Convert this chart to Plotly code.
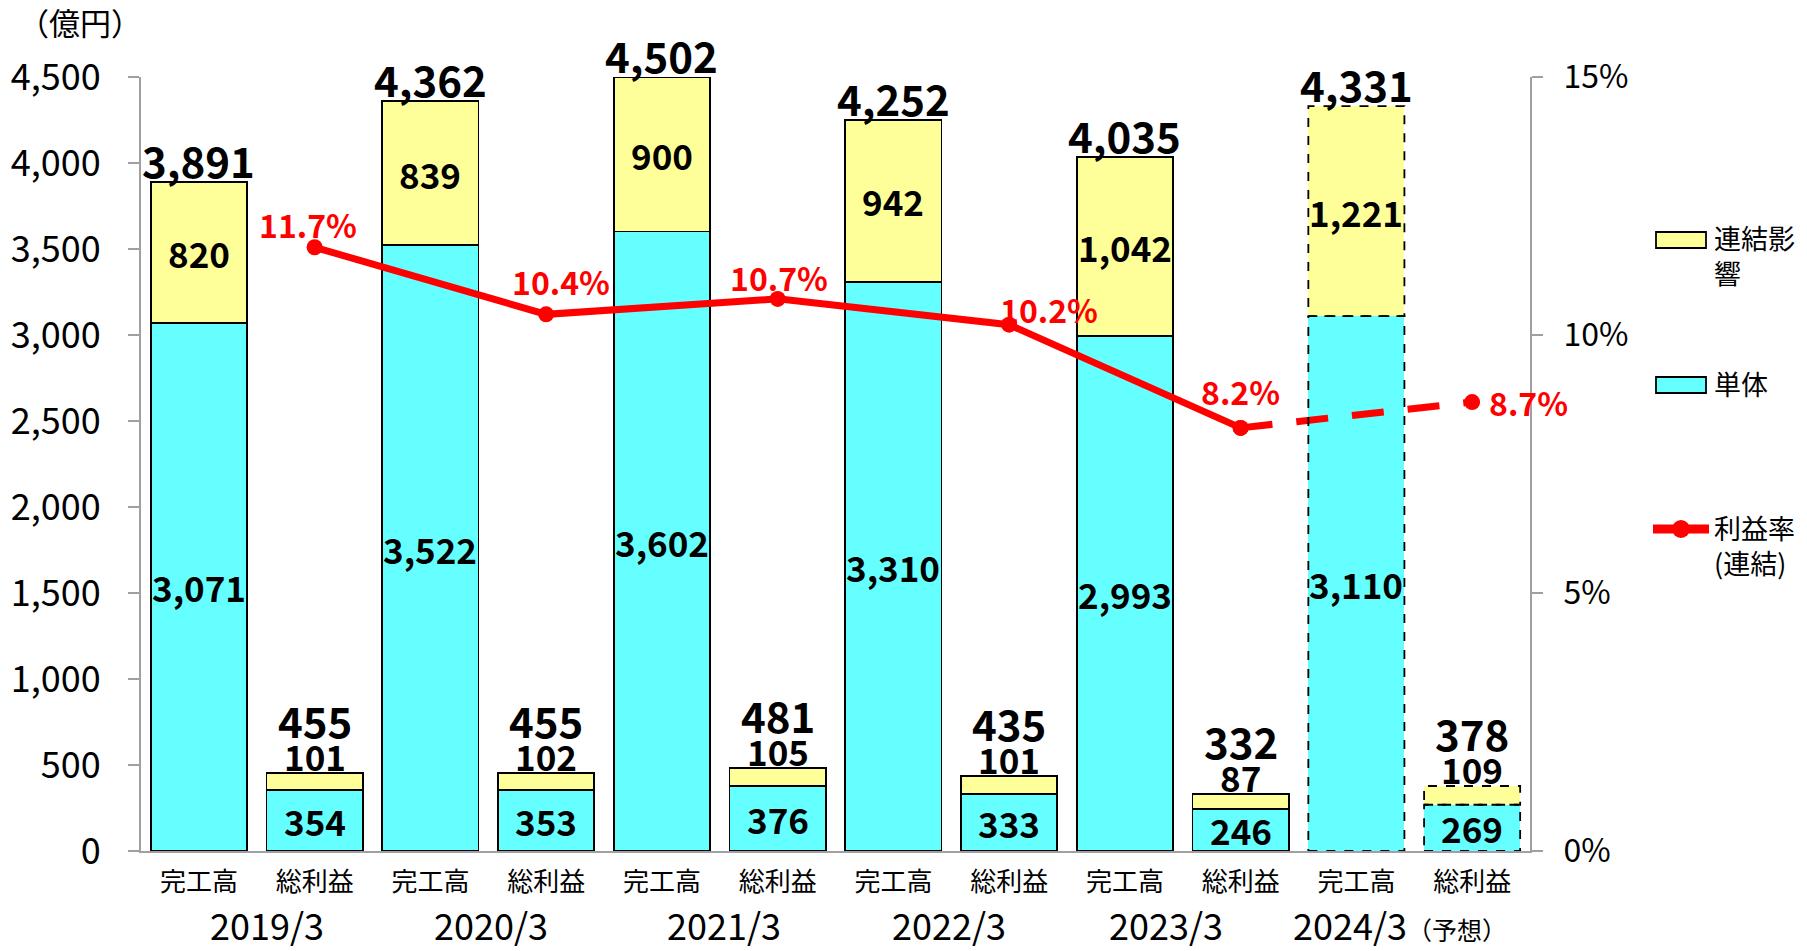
import plotly.graph_objects as go

# ---------------- data ----------------
years = ["2019/3", "2020/3", "2021/3", "2022/3", "2023/3", "2024/3"]
forecast_note = "（予想）"
cat_labels = ["完工高", "総利益"]
sales_single = [3071, 3522, 3602, 3310, 2993, 3110]
sales_consol = [820, 839, 900, 942, 1042, 1221]
sales_total = [3891, 4362, 4502, 4252, 4035, 4331]
profit_single = [354, 353, 376, 333, 246, 269]
profit_consol = [101, 102, 105, 101, 87, 109]
profit_total = [455, 455, 481, 435, 332, 378]
margin_pct = [11.7, 10.4, 10.7, 10.2, 8.2, 8.7]
y_ticks = [0, 500, 1000, 1500, 2000, 2500, 3000, 3500, 4000, 4500]
y2_ticks = [0, 5, 10, 15]
legend_names = ["連結影<br>響", "単体", "利益率<br>(連結)"]
unit_label = "（億円）"

# ---------------- style ----------------
FONT = "Noto Sans CJK JP"
CYAN = "#66FFFF"
YELLOW = "#FFFF99"
RED = "#FF0000"
GRAY = "#A0A0A0"
W, H = 1807, 951
L, R, T, B = 141, 277, 77, 100
PW, PH = W - L - R, H - T - B
Y_MAX = y_ticks[-1]
BAR_W = 0.83
n = len(years)
forecast_idx = n - 1

def px_x(px):
    return (px - L) / PW

def px_y(py):
    return (H - B - py) / PH

# interleaved bar positions
xs, single, consol, total = [], [], [], []
for i in range(n):
    xs += [2 * i, 2 * i + 1]
    single += [sales_single[i], profit_single[i]]
    consol += [sales_consol[i], profit_consol[i]]
    total += [sales_total[i], profit_total[i]]
is_fc = [(x // 2) == forecast_idx for x in xs]
lw = [0 if f else 1.8 for f in is_fc]
lc = ["rgba(0,0,0,0)" if f else "black" for f in is_fc]

fig = go.Figure()
fig.add_trace(go.Bar(x=xs, y=single, width=BAR_W, name="単体",
                     marker=dict(color=CYAN, line=dict(width=lw, color=lc)),
                     showlegend=False, hoverinfo="skip"))
fig.add_trace(go.Bar(x=xs, y=consol, width=BAR_W, name="連結影響",
                     marker=dict(color=YELLOW, line=dict(width=lw, color=lc)),
                     showlegend=False, hoverinfo="skip"))

# margin line
mx = [2 * i + 1 for i in range(n)]
my = [v / 100 for v in margin_pct]
fig.add_trace(go.Scatter(x=mx[:-1], y=my[:-1], yaxis="y2", mode="lines+markers",
                         line=dict(color=RED, width=7), marker=dict(size=16, color=RED),
                         showlegend=False, hoverinfo="skip"))
fig.add_trace(go.Scatter(x=mx[-2:], y=my[-2:], yaxis="y2", mode="lines+markers",
                         line=dict(color=RED, width=7, dash="32px,24px"),
                         marker=dict(size=16, color=RED),
                         showlegend=False, hoverinfo="skip"))

shapes = []
# dashed outlines for forecast bars
for k, x in enumerate(xs):
    if is_fc[k]:
        for y0, y1 in [(0, single[k]), (single[k], single[k] + consol[k])]:
            shapes.append(dict(type="rect", xref="x", yref="y", x0=x - BAR_W / 2, x1=x + BAR_W / 2,
                               y0=y0, y1=y1, line=dict(color="black", width=1.8, dash="dash"),
                               layer="above"))

ann = []
fmt = lambda v: f"{v:,}"
bold = dict(family=FONT, size=35, color="black", weight="bold")
big = dict(family=FONT, size=42, color="black", weight="bold")
for k, x in enumerate(xs):
    ann.append(dict(x=x, y=single[k] / 2, xref="x", yref="y", text=fmt(single[k]),
                    showarrow=False, font=bold))
    ty = total[k] / Y_MAX  # paper coords (plot area spans 0..Y_MAX)
    if x % 2 == 0:
        ann.append(dict(x=x, y=single[k] + consol[k] / 2, xref="x", yref="y",
                        text=fmt(consol[k]), showarrow=False, font=bold))
        ann.append(dict(x=x, y=ty, xref="x", yref="paper", text=fmt(total[k]),
                        yanchor="bottom", yshift=-10, showarrow=False, font=big))
    else:
        ann.append(dict(x=x, y=ty, xref="x", yref="paper", text=fmt(consol[k]),
                        yanchor="bottom", yshift=-10, showarrow=False, font=bold))
        ann.append(dict(x=x, y=ty, xref="x", yref="paper", text=fmt(total[k]),
                        yanchor="bottom", yshift=21, showarrow=False, font=big))

# margin labels (pixel nudges)
rate_nudge = [(-7, -23), (15, -33), (1, -22), (40, -16), (0, -37), (56, 0)]
for i in range(n):
    ann.append(dict(x=mx[i], y=my[i], xref="x", yref="y2", text=f"{margin_pct[i]:.1f}%",
                    xshift=rate_nudge[i][0], yshift=-rate_nudge[i][1], showarrow=False,
                    font=dict(family=FONT, size=32, color=RED, weight="bold")))

# year labels
year_nudge = [10, 3, 4, -2, -17, -14]
for i in range(n):
    txt = years[i]
    if i == forecast_idx:
        txt += f"<span style='font-size:25px'>{forecast_note}</span>"
    ann.append(dict(x=2 * i + 0.5, y=0, xref="x", yref="paper", text=txt,
                    xanchor="center", yanchor="middle", yshift=-(924 - (H - B)),
                    xshift=year_nudge[i],
                    showarrow=False, font=dict(family=FONT, size=36, color="black")))

# unit label
ann.append(dict(x=px_x(80), y=px_y(22), xref="paper", yref="paper", text=unit_label,
                xanchor="center", yanchor="middle",
                showarrow=False, font=dict(family=FONT, size=31, color="black")))

# custom legend
shapes.append(dict(type="rect", xref="paper", yref="paper", x0=px_x(1656), x1=px_x(1706),
                   y0=px_y(248), y1=px_y(232), fillcolor=YELLOW, line=dict(color="black", width=1.8)))
shapes.append(dict(type="rect", xref="paper", yref="paper", x0=px_x(1656), x1=px_x(1706),
                   y0=px_y(393), y1=px_y(377), fillcolor=CYAN, line=dict(color="black", width=1.8)))
shapes.append(dict(type="line", xref="paper", yref="paper", x0=px_x(1653), x1=px_x(1709),
                   y0=px_y(529), y1=px_y(529), line=dict(color=RED, width=9)))
shapes.append(dict(type="circle", xref="paper", yref="paper", x0=px_x(1672), x1=px_x(1690),
                   y0=px_y(538), y1=px_y(520), fillcolor=RED, line=dict(color=RED, width=0)))
leg_font = dict(family=FONT, size=27, color="black")
ann.append(dict(x=px_x(1712), y=px_y(216), xref="paper", yref="paper", text=legend_names[0],
                xanchor="left", yanchor="top", align="left", showarrow=False, font=leg_font))
ann.append(dict(x=px_x(1712), y=px_y(383), xref="paper", yref="paper", text=legend_names[1],
                xanchor="left", yanchor="middle", align="left", showarrow=False, font=leg_font))
ann.append(dict(x=px_x(1712), y=px_y(506), xref="paper", yref="paper", text=legend_names[2],
                xanchor="left", yanchor="top", align="left", showarrow=False, font=leg_font))

fig.update_layout(
    width=W, height=H, barmode="stack", bargap=0.17,
    plot_bgcolor="white", paper_bgcolor="white",
    margin=dict(l=L, r=R, t=T, b=B),
    font=dict(family=FONT, color="black"),
    showlegend=False,
    xaxis=dict(range=[-0.5, 2 * n - 0.5], tickvals=xs, ticktext=[cat_labels[x % 2] for x in xs],
               showline=True, linecolor=GRAY, linewidth=2, ticks="", showgrid=False,
               zeroline=False, tickfont=dict(family=FONT, size=26, color="black"),
               ticklabelstandoff=7),
    yaxis=dict(range=[0, Y_MAX], tickvals=y_ticks, ticktext=[f"{v:,}" for v in y_ticks],
               showline=True, linecolor=GRAY, linewidth=2, ticks="outside", ticklen=11,
               tickcolor=GRAY, tickwidth=2, showgrid=False, zeroline=False,
               tickfont=dict(family=FONT, size=36, color="black"), ticklabelstandoff=20),
    yaxis2=dict(range=[0, 0.15], overlaying="y", side="right",
                tickvals=[v / 100 for v in y2_ticks], ticktext=[f"{v}%" for v in y2_ticks],
                showline=True, linecolor=GRAY, linewidth=2, ticks="outside", ticklen=11,
                tickcolor=GRAY, tickwidth=2, showgrid=False, zeroline=False,
                tickfont=dict(family=FONT, size=32, color="black"), ticklabelstandoff=14),
    shapes=shapes, annotations=ann,
)

fig.write_html("out.html", config={"displayModeBar": False},
               post_script="document.body.style.margin='0';document.body.style.overflow='hidden';")
